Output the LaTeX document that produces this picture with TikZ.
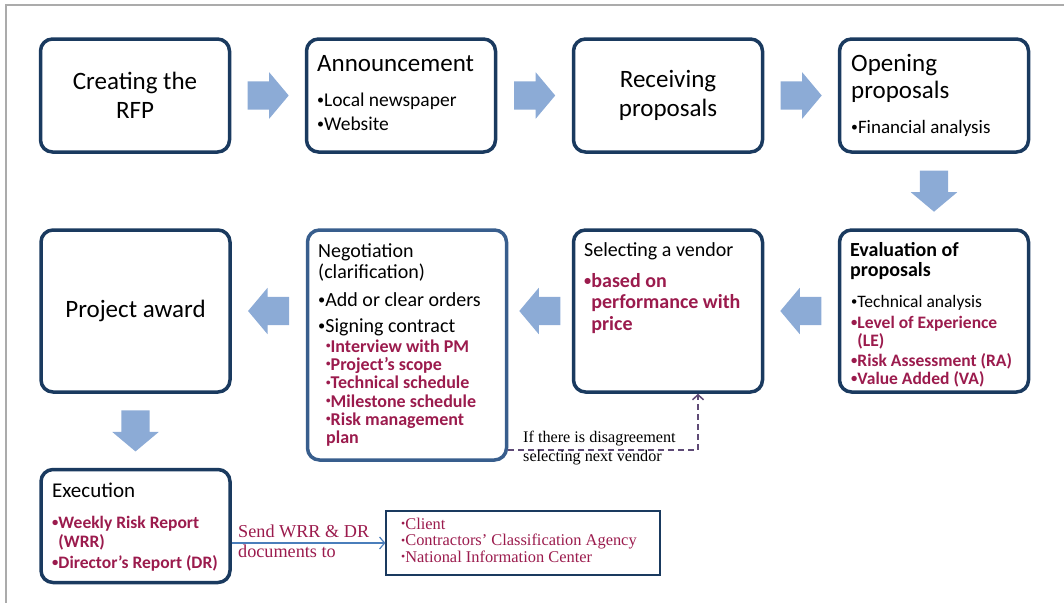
\documentclass[tikz,border=0pt]{standalone}
\usepackage{fontspec}
\usepackage{graphicx}
\setmainfont{Carlito}
\newfontfamily\rfserif{Liberation Serif}
\usetikzlibrary{calc,positioning,shapes.arrows,arrows.meta}
\definecolor{rfnavy} {HTML}{1A3A5F}
\definecolor{rfblue} {HTML}{385E8D}
\definecolor{rfarrow}{HTML}{8CABD6}
\definecolor{rfred}  {HTML}{9B1B4D}
\definecolor{rfsend} {HTML}{4A7EBB}
\definecolor{rfdash} {HTML}{5F4A76}
\definecolor{rfframe}{HTML}{ABABAB}
\newcommand{\rfsize}[2]{\fontsize{#1}{#2}\selectfont}
\newcommand{\rftop}{\rule{0pt}{20pt}}
\newcommand{\rfbul}{\raisebox{0.1em}{\scalebox{0.72}{\textbullet}}}
\newcommand{\rfdot}{\raisebox{0.2em}{\scalebox{0.5}{\textbullet}}}
\tikzset{
  stage/.style={draw=rfnavy, line width=3.5pt, rounded corners=12pt,
    minimum width=189pt, minimum height=113pt, inner sep=0pt,
    align=center, font=\rfsize{25}{29.5}},
  tall/.style={minimum height=162pt},
  blockarrow/.style={single arrow, fill=rfarrow, draw=none, anchor=tail,
    minimum height=41pt, inner xsep=0pt, inner ysep=14pt,
    single arrow head extend=9pt, single arrow tip angle=100},
  txt/.style={anchor=north west, inner sep=0pt, align=left},
  redtxt/.style={txt, text=rfred, font=\rfsize{18}{18.3}\bfseries},
  sendline/.style={rfsend, line width=1.2pt,
    -{Straight Barb[length=5pt, width=12pt]}},
  retryline/.style={rfdash, line width=1.5pt, dash pattern=on 6pt off 4pt,
    -{Straight Barb[length=5pt, width=11pt]}}
}
\begin{document}
\begin{tikzpicture}[x=1pt, y=-1pt]
  \useasboundingbox (0,0) rectangle (1064,603);
  \draw[rfframe, line width=1.5pt] (1064,5) -- (6,5) -- (6,603);

  \node[stage] (rfp)      at (135,95.5) {Creating the\\RFP};
  \node[stage] (announce) at (401,95.5) {};
  \node[stage] (receive)  at (668,95.5) {Receiving\\proposals};
  \node[stage] (opening)  at (934,95.5) {};
  \node[stage, tall] (award)  at (135.5,311) {Project award};
  \node[stage, draw=rfblue, minimum width=199pt, minimum height=230pt]
    (negot) at (407,345) {};
  \node[stage, tall] (select) at (668,311) {};
  \node[stage, tall] (eval)   at (934,311) {};
  \node[stage] (exec) at (135.5,526) {};
  \node[draw=rfnavy, line width=1.3pt, minimum width=274pt,
    minimum height=64pt] (recip) at (523,543) {};

  \node[txt, font=\rfsize{25}{29.5}] (announcehd) at (317,51) {\rftop Announcement};
  \node[txt, font=\rfsize{19.5}{24}] (announcelst) at (317,86)
    {\rftop\rfbul Local newspaper\\\rfbul Website};
  \node[txt, font=\rfsize{25}{27}] (openinghd) at (851,51) {\rftop Opening\\proposals};
  \node[txt, font=\rfsize{19}{24}] (openinglst) at (851,113)
    {\rftop\rfbul Financial analysis};

  \node[txt, font=\rfsize{20}{21.5}] (negothd) at (318,237)
    {\rftop Negotiation\\(clarification)};
  \node[txt, font=\rfsize{20}{26}] (negolst) at (318,286)
    {\rftop\rfbul Add or clear orders\\\rfbul Signing contract};
  \node[redtxt] (negored) at (326,332)
    {\rftop\rfdot Interview with PM\\\rfdot Project’s scope\\
     \rfdot Technical schedule\\\rfdot Milestone schedule\\
     \rfdot Risk management\\plan};

  \node[txt, font=\rfsize{20}{21.5}] (selecthd) at (584,236) {\rftop Selecting a vendor};
  \node[txt, text=rfred, font=\rfsize{20}{21.5}\bfseries] (selectlst) at (584,267)
    {\rftop\rfbul based on\\\phantom{\rfbul}performance with\\
     \phantom{\rfbul}price};

  \node[txt, font=\rfsize{20}{20}\bfseries] (evalhd) at (850,236)
    {\rftop Evaluation of\\proposals};
  \node[txt, font=\rfsize{17.5}{18}] (evallst) at (851,287)
    {\rftop\rfbul Technical analysis\\[3pt]
     \color{rfred}\bfseries\rfbul Level of Experience\\
     \color{rfred}\bfseries\phantom{\rfbul}(LE)\\[2pt]
     \color{rfred}\bfseries\rfbul Risk Assessment (RA)\\
     \color{rfred}\bfseries\rfbul Value Added (VA)};

  \node[txt, font=\rfsize{21}{21}] (exechd) at (52,477) {\rftop Execution};
  \node[redtxt, font=\rfsize{17.5}{19.5}\bfseries] (execred) at (52,508)
    {\rftop\rfbul Weekly Risk Report\\\phantom{\rfbul}(WRR)\\[1pt]
     \rfbul Director’s Report (DR)};

  \node[txt, text=rfred, font=\rfserif\rfsize{16.4}{16.5}] (reciplst) at (401,509)
    {\rftop\rfbul Client\\\rfbul Contractors’ Classification Agency\\
     \rfbul National Information Center};

  \foreach \a/\b/\n in {rfp/announce/ar1, announce/receive/ar2, receive/opening/ar3}
    {\node[blockarrow] (\n) at ($(\a.east)!0.5!(\b.west)+(-20.5,0)$) {};}
  \foreach \a/\b/\n in {eval/select/ar4, select/negot/ar5, negot/award/ar6}
    {\node[blockarrow, rotate=180] (\n)
       at ($(\a.west |- 0,311)!0.5!(\b.east |- 0,311)+(20.5,0)$) {};}
  \node[blockarrow, rotate=-90] (ar7) at ($(opening.south)!0.5!(eval.north)+(0,-20.5)$) {};
  \node[blockarrow, rotate=-90] (ar8) at ($(award.south)!0.5!(exec.north)+(0,-20.5)$) {};

  \draw[sendline] (recip.west -| exec.east) -- (recip.west);
  \node[txt, text=rfred, font=\rfserif\rfsize{18.2}{20}] (sendlbl) at (238,517)
    {\rftop Send WRR \& DR\\documents to};

  \draw[retryline] ($(negot.south east)+(0,-12)$) -| ($(select.south)+(30,0)$);
  \node[txt, font=\rfserif\rfsize{16.2}{19}] (retrylbl) at (523,422)
    {\rftop If there is disagreement\\selecting next vendor};
\end{tikzpicture}
\end{document}
